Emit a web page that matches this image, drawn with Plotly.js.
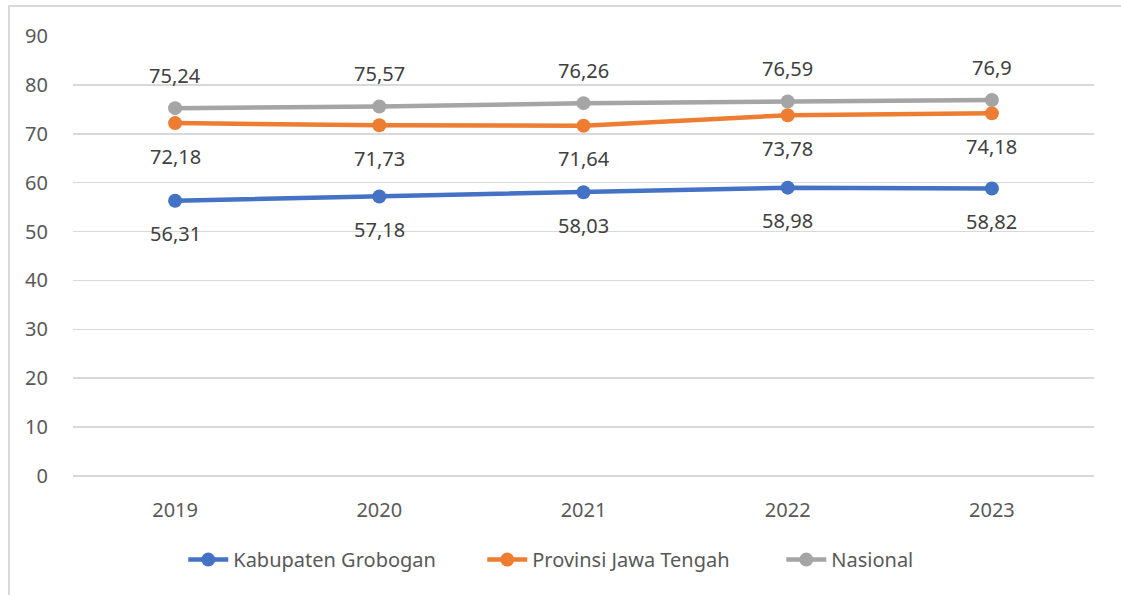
<!DOCTYPE html>
<html>
<head>
<meta charset="utf-8">
<script src="https://cdn.plot.ly/plotly-3.0.1.min.js"></script>
<style>
  body { margin: 0; background: #fff; }
  #chart { width: 1121px; height: 595px; }
  #frame { position: absolute; left: 8px; top: 5px; width: 1200px; height: 700px;
           border-left: 2px solid #d9d9d9; border-top: 2px solid #d9d9d9; pointer-events: none; }
</style>
</head>
<body>
<div id="chart"></div>
<div id="frame"></div>
<script>
// Data
const years = ['2019', '2020', '2021', '2022', '2023'];
const kabupaten = [56.31, 57.18, 58.03, 58.98, 58.82];
const provinsi = [72.18, 71.73, 71.64, 73.78, 74.18];
const nasional = [75.24, 75.57, 76.26, 76.59, 76.9];

const seriesNames = ['Kabupaten Grobogan', 'Provinsi Jawa Tengah', 'Nasional'];
const seriesColors = ['#4472c4', '#ed7d31', '#a5a5a5'];
const labelSide = [-1, -1, 1];   // -1 below the point, 1 above

const allSeries = [kabupaten, provinsi, nasional];
const fontFamily = 'Noto Sans, Open Sans, sans-serif';

const traces = allSeries.map((vals, i) => ({
    x: years,
    y: vals,
    name: seriesNames[i],
    type: 'scatter',
    mode: 'lines+markers',
    line: { color: seriesColors[i], width: 4.5 },
    marker: { color: seriesColors[i], size: 14 }
}));

// data labels, comma decimal separator (x given as category index)
const annotations = [];
allSeries.forEach((vals, i) => {
    vals.forEach((v, j) => {
        annotations.push({
            x: j, y: v, xref: 'x', yref: 'y',
            text: String(v).replace('.', ','),
            showarrow: false,
            yshift: labelSide[i] * 33,
            font: { family: fontFamily, size: 20, color: '#404040' }
        });
    });
});

const layout = {
    width: 1121,
    height: 595,
    margin: { l: 73, r: 27, t: 36, b: 119 },
    paper_bgcolor: '#ffffff',
    plot_bgcolor: '#ffffff',
    showlegend: true,
    legend: {
        orientation: 'h',
        x: 0.108, xanchor: 'left',
        y: -0.19, yanchor: 'middle',
        font: { family: fontFamily, size: 20, color: '#595959' },
        itemwidth: 40,
        entrywidth: 244,
        entrywidthmode: 'pixels',
        traceorder: 'normal'
    },
    xaxis: {
        type: 'category',
        range: [-0.5, years.length - 0.5],
        showgrid: false,
        showline: false,
        ticks: '',
        ticklabelstandoff: 20,
        tickfont: { family: fontFamily, size: 20, color: '#595959' }
    },
    yaxis: {
        range: [0, 90],
        dtick: 10,
        showgrid: true,
        gridcolor: '#d9d9d9',
        gridwidth: 1.5,
        zeroline: true,
        zerolinecolor: '#d9d9d9',
        zerolinewidth: 1.5,
        showline: false,
        ticks: '',
        ticklabelstandoff: 24,
        tickfont: { family: fontFamily, size: 20, color: '#595959' }
    },
    annotations: annotations
};

Plotly.newPlot('chart', traces, layout, { displayModeBar: false, staticPlot: true });
</script>
</body>
</html>
